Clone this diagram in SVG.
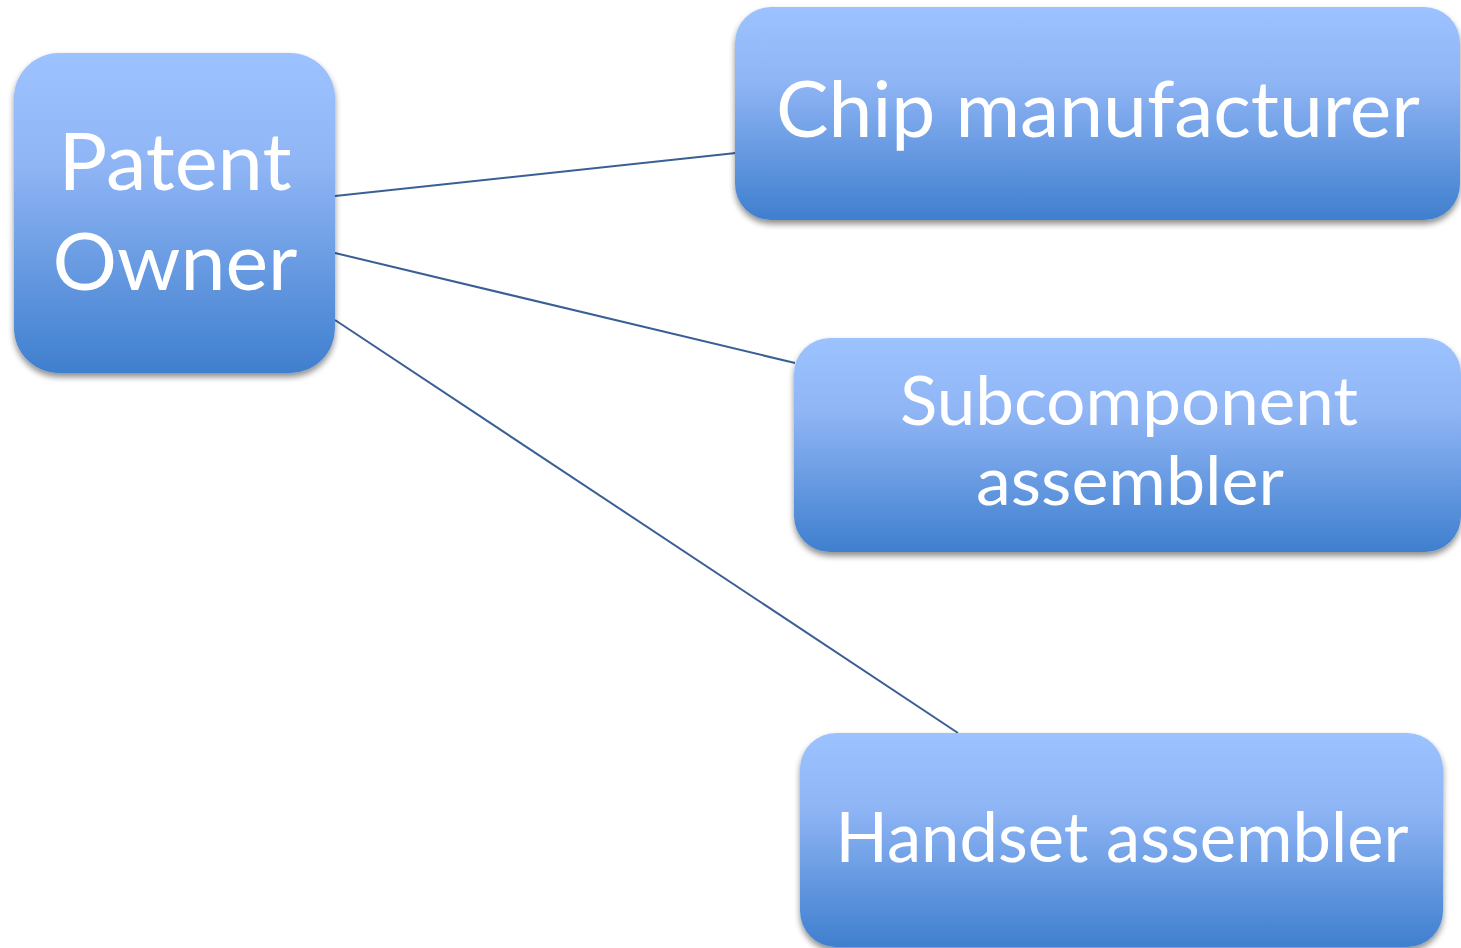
<svg xmlns="http://www.w3.org/2000/svg" width="1461" height="948" viewBox="0 0 1461 948">
<style>
.box{fill:url(#g);filter:url(#sh)}
.lbl{fill:#fff;font-family:Lato,"Open Sans","Liberation Sans",sans-serif;text-anchor:middle}
.con{stroke:#3a5f95;stroke-width:2;fill:none}
</style>
<defs>
<linearGradient id="g" x1="0" y1="0" x2="0" y2="1">
<stop offset="0" stop-color="#9cc2ff"/>
<stop offset="0.35" stop-color="#8fb5f5"/>
<stop offset="1" stop-color="#3f7fce"/>
</linearGradient>
<filter id="sh" x="-10%" y="-10%" width="120%" height="125%">
<feGaussianBlur in="SourceAlpha" stdDeviation="3"/>
<feOffset dx="0" dy="4" result="b"/>
<feComponentTransfer><feFuncA type="linear" slope="0.45"/></feComponentTransfer>
<feMerge><feMergeNode/><feMergeNode in="SourceGraphic"/></feMerge>
</filter>
</defs>
<rect width="1461" height="948" fill="#fff"/>
<g id="connectors">
<line class="con" x1="335" y1="196" x2="736" y2="153"/>
<line class="con" x1="335" y1="253" x2="795" y2="363"/>
<line class="con" x1="335" y1="320" x2="958" y2="733"/>
</g>
<g id="patent-owner">
<rect class="box" x="14" y="53" width="321" height="320" rx="45"/>
<text class="lbl" x="175" y="190" font-size="80" textLength="233" lengthAdjust="spacingAndGlyphs">Patent</text>
<text class="lbl" x="175" y="290" font-size="80" textLength="245" lengthAdjust="spacingAndGlyphs">Owner</text>
</g>
<g id="chip-manufacturer">
<rect class="box" x="735" y="7" width="725" height="213" rx="36"/>
<text class="lbl" x="1098" y="137" font-size="78" textLength="644" lengthAdjust="spacingAndGlyphs">Chip manufacturer</text>
</g>
<g id="subcomponent-assembler">
<rect class="box" x="794" y="338" width="667" height="214" rx="36"/>
<text class="lbl" x="1129" y="425" font-size="67" textLength="458" lengthAdjust="spacingAndGlyphs">Subcomponent</text>
<text class="lbl" x="1130" y="505" font-size="67" textLength="308" lengthAdjust="spacingAndGlyphs">assembler</text>
</g>
<g id="handset-assembler">
<rect class="box" x="800" y="733" width="643" height="214" rx="36"/>
<text class="lbl" x="1122" y="862" font-size="70" textLength="573" lengthAdjust="spacingAndGlyphs">Handset assembler</text>
</g>
</svg>
